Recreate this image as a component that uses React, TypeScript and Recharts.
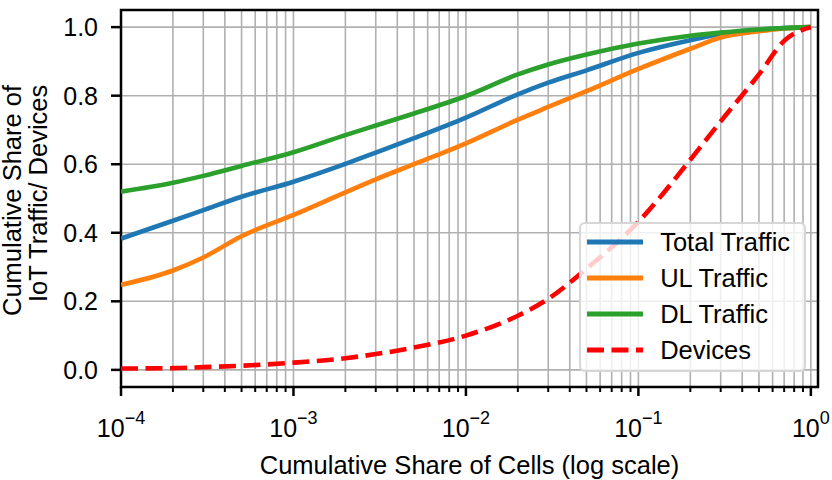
import React from 'react';
import { CartesianGrid, Legend, Line, LineChart, ReferenceArea, XAxis, YAxis } from 'recharts';

const cellShare = [1e-4, 2e-4, 3e-4, 5e-4, 1e-3, 2e-3, 3e-3, 5e-3, 1e-2, 2e-2, 3e-2, 5e-2, 1e-1, 2e-1, 3e-1, 5e-1, 7e-1, 1];
const totalTraffic = [0.383, 0.435, 0.466, 0.505, 0.549, 0.601, 0.634, 0.676, 0.736, 0.804, 0.838, 0.874, 0.925, 0.962, 0.98, 0.992, 0.997, 1.0];
const ulTraffic = [0.248, 0.29, 0.328, 0.39, 0.452, 0.518, 0.556, 0.6, 0.661, 0.73, 0.767, 0.813, 0.878, 0.937, 0.97, 0.988, 0.996, 1.0];
const dlTraffic = [0.52, 0.546, 0.566, 0.595, 0.635, 0.685, 0.713, 0.748, 0.799, 0.862, 0.891, 0.92, 0.952, 0.975, 0.984, 0.993, 0.997, 1.0];
const devices = [0.004, 0.005, 0.008, 0.012, 0.021, 0.034, 0.046, 0.065, 0.1, 0.158, 0.207, 0.295, 0.432, 0.613, 0.725, 0.862, 0.96, 1.0];

const majorTicks = [1e-4, 1e-3, 1e-2, 1e-1, 1];
const minorSteps = [2, 3, 4, 5, 6, 7, 8, 9];
const yTicks = [0, 0.2, 0.4, 0.6, 0.8, 1.0];

const series = [
  { key: 'total', name: 'Total Traffic', color: '#1f77b4', dash: undefined as string | undefined },
  { key: 'ul', name: 'UL Traffic', color: '#ff7f0e', dash: undefined },
  { key: 'dl', name: 'DL Traffic', color: '#2ca02c', dash: undefined },
  { key: 'devices', name: 'Devices', color: '#ff0000', dash: '17 7.5' }
];

const rows = cellShare.map((x, i) => ({
  x,
  total: totalTraffic[i],
  ul: ulTraffic[i],
  dl: dlTraffic[i],
  devices: devices[i]
}));

const xTicks = [
  ...majorTicks,
  ...majorTicks.slice(0, -1).flatMap((m) => minorSteps.map((s) => s * m))
].sort((a, b) => a - b);

const FONT = '"Liberation Sans", Arial, Helvetica, sans-serif';
const LABEL_SIZE = 25.5;

function XTick(props: any) {
  const { x, y, payload } = props;
  const v = payload.value;
  const major = majorTicks.some((m) => Math.abs(m - v) < m * 1e-9);
  const exp = Math.round(Math.log10(v));
  return (
    <g>
      <line x1={x} y1={y} x2={x} y2={y + (major ? 9 : 5)} stroke="#000" strokeWidth={major ? 2.5 : 2} />
      {major && (
        <text x={x} y={y + 50} textAnchor="middle" fontSize={25} fill="#000" fontFamily={FONT}>
          10
          <tspan dy={-13.4} fontSize={18}>
            {exp === 0 ? '0' : `\u2212${Math.abs(exp)}`}
          </tspan>
        </text>
      )}
    </g>
  );
}

function XLabel() {
  return (
    <text x={469.5} y={474} textAnchor="middle" fontSize={LABEL_SIZE} fill="#000" fontFamily={FONT}>
      Cumulative Share of Cells (log scale)
    </text>
  );
}

function YLabel() {
  return (
    <g fontSize={LABEL_SIZE} fill="#000" fontFamily={FONT}>
      <text transform="translate(21, 316) rotate(-90)" textAnchor="start">
        Cumulative Share of
      </text>
      <text transform="translate(47, 302) rotate(-90)" textAnchor="start">
        IoT Traffic/ Devices
      </text>
    </g>
  );
}

function LegendBox(props: any) {
  const { payload } = props;
  return (
    <div
      style={{
        boxSizing: 'border-box',
        width: 227,
        height: 150,
        border: '2px solid #d6d6d6',
        borderRadius: 6,
        background: 'rgba(255,255,255,0.8)',
        fontFamily: FONT
      }}
    >
      {series.map((s) => {
        const entry = (payload ?? []).find((item: any) => item.value === s.name);
        return (
          <div key={s.key} style={{ height: 36, display: 'flex', alignItems: 'center' }}>
            <svg width={56} height={10} style={{ marginLeft: 5.7, display: 'block' }}>
              <line x1={0} y1={5} x2={56} y2={5} stroke={entry?.color ?? s.color} strokeWidth={5} strokeDasharray={s.dash} />
            </svg>
            <span style={{ marginLeft: 17.5, fontSize: LABEL_SIZE, color: '#000', lineHeight: '36px' }}>{s.name}</span>
          </div>
        );
      })}
    </div>
  );
}

export default function App() {
  return (
    <div style={{ position: 'absolute', left: 0, top: 0, width: 832, height: 480, background: '#fff' }}>
      <LineChart width={832} height={480} data={rows} margin={{ top: 10, right: 14, left: 0, bottom: 0 }}>
        <CartesianGrid stroke="#b0b0b0" strokeWidth={1.6} />
        <XAxis
          dataKey="x"
          type="number"
          scale="log"
          domain={[1e-4, 1.1]}
          allowDataOverflow
          ticks={xTicks}
          interval={0}
          height={93}
          axisLine={false}
          tickLine={false}
          tickSize={0}
          tickMargin={0}
          tick={<XTick />}
          label={<XLabel />}
        />
        <YAxis
          type="number"
          domain={[-0.05, 1.05]}
          allowDataOverflow
          ticks={yTicks}
          interval={0}
          width={121}
          axisLine={false}
          tickLine={{ stroke: '#000', strokeWidth: 2.5 }}
          tickSize={10}
          tickMargin={13}
          tick={{ fill: '#000', fontSize: 25, fontFamily: FONT }}
          tickFormatter={(v: number) => v.toFixed(1)}
          label={<YLabel />}
        />
        {series.map((s) => (
          <Line
            key={s.key}
            dataKey={s.key}
            name={s.name}
            type="monotoneX"
            stroke={s.color}
            strokeWidth={4.6}
            strokeDasharray={s.dash}
            dot={false}
            activeDot={false}
            isAnimationActive={false}
          />
        ))}
        <ReferenceArea
          x1={1e-4}
          x2={1.1}
          y1={-0.05}
          y2={1.05}
          fill="none"
          fillOpacity={0}
          stroke="#000"
          strokeWidth={2.5}
          ifOverflow="visible"
        />
        <Legend
          layout="vertical"
          align="center"
          verticalAlign="middle"
          content={<LegendBox />}
          wrapperStyle={{ left: 579, top: 222, width: 227, height: 150, right: 'auto', bottom: 'auto' }}
        />
      </LineChart>
    </div>
  );
}
